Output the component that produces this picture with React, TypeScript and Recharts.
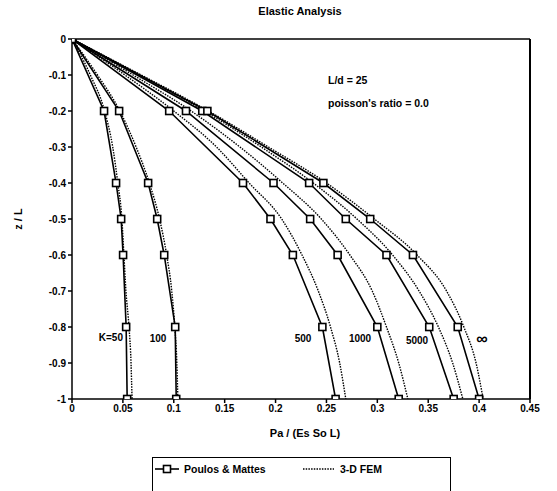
import React from "react";
import { LineChart, Line, XAxis, YAxis, ReferenceLine } from "recharts";

const zPoulos = [0, -0.2, -0.4, -0.5, -0.6, -0.8, -1];
const zFem = [0, -0.1, -0.2, -0.3, -0.4, -0.5, -0.6, -0.7, -0.8, -0.9, -1];

const poulosK50 = [0, 0.0315, 0.0433, 0.0483, 0.0502, 0.0532, 0.0542];
const poulosK100 = [0, 0.0463, 0.0748, 0.0837, 0.0906, 0.1014, 0.1024];
const poulosK500 = [0, 0.0955, 0.168, 0.195, 0.217, 0.246, 0.259];
const poulosK1000 = [0, 0.112, 0.198, 0.234, 0.261, 0.3, 0.321];
const poulosK5000 = [0, 0.128, 0.233, 0.269, 0.309, 0.351, 0.375];
const poulosKInf = [0, 0.133, 0.247, 0.293, 0.335, 0.379, 0.4];

const femK50 = [0, 0.018, 0.032, 0.04, 0.045, 0.049, 0.051, 0.053, 0.056, 0.058, 0.059];
const femK100 = [0, 0.025, 0.047, 0.063, 0.076, 0.086, 0.093, 0.098, 0.101, 0.103, 0.104];
const femK500 = [0, 0.052, 0.1, 0.142, 0.174, 0.206, 0.226, 0.242, 0.254, 0.263, 0.269];
const femK1000 = [0, 0.06, 0.117, 0.165, 0.207, 0.245, 0.273, 0.295, 0.309, 0.321, 0.33];
const femK5000 = [0, 0.066, 0.13, 0.186, 0.237, 0.28, 0.315, 0.341, 0.36, 0.374, 0.384];
const femKInf = [0, 0.068, 0.134, 0.193, 0.25, 0.297, 0.339, 0.368, 0.385, 0.397, 0.404];

const xTicks = [0, 0.05, 0.1, 0.15, 0.2, 0.25, 0.3, 0.35, 0.4, 0.45];
const yTicks = [0, -0.1, -0.2, -0.3, -0.4, -0.5, -0.6, -0.7, -0.8, -0.9, -1];

const poulosSeries = [poulosK50, poulosK100, poulosK500, poulosK1000, poulosK5000, poulosKInf];
const femSeries = [femK50, femK100, femK500, femK1000, femK5000, femKInf];

const toPoints = (zs: number[], xs: number[]) => zs.map((z, i) => ({ x: xs[i], z }));

const FONT = "'Liberation Sans', Arial, sans-serif";
const tickStyle = { fontFamily: FONT, fontSize: 10, fontWeight: 700, fill: "#000" };

const SquareDot = (props: any) => {
  const { cx, cy, index } = props;
  if (cx == null || cy == null) return null;
  return (
    <rect
      key={`sq-${index}-${cx}`}
      x={cx - 3.5}
      y={cy - 3.5}
      width={7}
      height={7}
      fill="#fff"
      stroke="#000"
      strokeWidth={1.6}
    />
  );
};

const fmtY = (v: number) => (v === 0 ? "0" : v === -1 ? "-1" : v.toFixed(1));
const fmtX = (v: number) => (v === 0 ? "0" : String(v));

const txt = { fontFamily: FONT, fontWeight: 700, fill: "#000" } as const;

export default function App() {
  return (
    <div style={{ position: "absolute", left: 0, top: 0, width: 557, height: 491, background: "#fff" }}>
      <LineChart width={557} height={491} margin={{ top: 39, right: 27, bottom: 62, left: 32 }}>
        <XAxis
          type="number"
          dataKey="x"
          domain={[0, 0.45]}
          ticks={xTicks}
          tickFormatter={fmtX}
          height={30}
          tick={tickStyle}
          tickSize={4}
          stroke="#000"
          strokeWidth={1.5}
          allowDataOverflow
        />
        <YAxis
          type="number"
          dataKey="z"
          domain={[-1, 0]}
          ticks={yTicks}
          tickFormatter={fmtY}
          width={40}
          tick={tickStyle}
          tickSize={4}
          stroke="#000"
          strokeWidth={1.5}
          allowDataOverflow
        />
        <ReferenceLine y={0} stroke="#000" strokeWidth={1.5} />
        <ReferenceLine x={0.45} stroke="#000" strokeWidth={2} />
        {femSeries.map((xs, i) => (
          <Line
            key={`fem-${i}`}
            data={toPoints(zFem, xs)}
            dataKey="z"
            type="monotone"
            stroke="#000"
            strokeWidth={1.4}
            strokeDasharray="1.5 1.2"
            dot={false}
            isAnimationActive={false}
          />
        ))}
        {poulosSeries.map((xs, i) => (
          <Line
            key={`poulos-${i}`}
            data={toPoints(zPoulos, xs)}
            dataKey="z"
            type="linear"
            stroke="#000"
            strokeWidth={1.6}
            dot={SquareDot}
            isAnimationActive={false}
          />
        ))}
        <text x={300} y={15} textAnchor="middle" fontSize={11} {...txt}>Elastic Analysis</text>
        <text x={328} y={84} fontSize={10.5} {...txt}>L/d = 25</text>
        <text x={328} y={107} fontSize={10.5} {...txt}>poisson's ratio = 0.0</text>
        <text x={123} y={341} textAnchor="end" fontSize={10} {...txt}>K=50</text>
        <text x={158} y={342} textAnchor="middle" fontSize={10} {...txt}>100</text>
        <text x={303} y={342} textAnchor="middle" fontSize={10} {...txt}>500</text>
        <text x={360} y={342} textAnchor="middle" fontSize={10} {...txt}>1000</text>
        <text x={417} y={344} textAnchor="middle" fontSize={10} {...txt}>5000</text>
        <text x={482} y={344} textAnchor="middle" fontSize={16} {...txt}>∞</text>
        <text x={305} y={437} textAnchor="middle" fontSize={11} {...txt}>Pa / (Es So L)</text>
        <text x={22} y={219} textAnchor="middle" fontSize={11} transform="rotate(-90 22 219)" {...txt}>z / L</text>
      </LineChart>
      <div
        style={{
          position: "absolute",
          left: 152,
          top: 457,
          width: 299,
          height: 40,
          border: "1.5px solid #000",
          boxSizing: "border-box",
        }}
      >
        <svg width={299} height={24} style={{ position: "absolute", left: 0, top: 0 }}>
          <line x1={2} y1={11} x2={26} y2={11} stroke="#000" strokeWidth={1.6} />
          <rect x={10.5} y={7.5} width={7} height={7} fill="#fff" stroke="#000" strokeWidth={1.6} />
          <text x={31} y={15} fontSize={10.5} {...txt}>Poulos &amp; Mattes</text>
          <line x1={150} y1={11} x2={181} y2={11} stroke="#000" strokeWidth={1.4} strokeDasharray="1.5 1.2" />
          <text x={187} y={15} fontSize={10.5} {...txt}>3-D FEM</text>
        </svg>
      </div>
    </div>
  );
}
